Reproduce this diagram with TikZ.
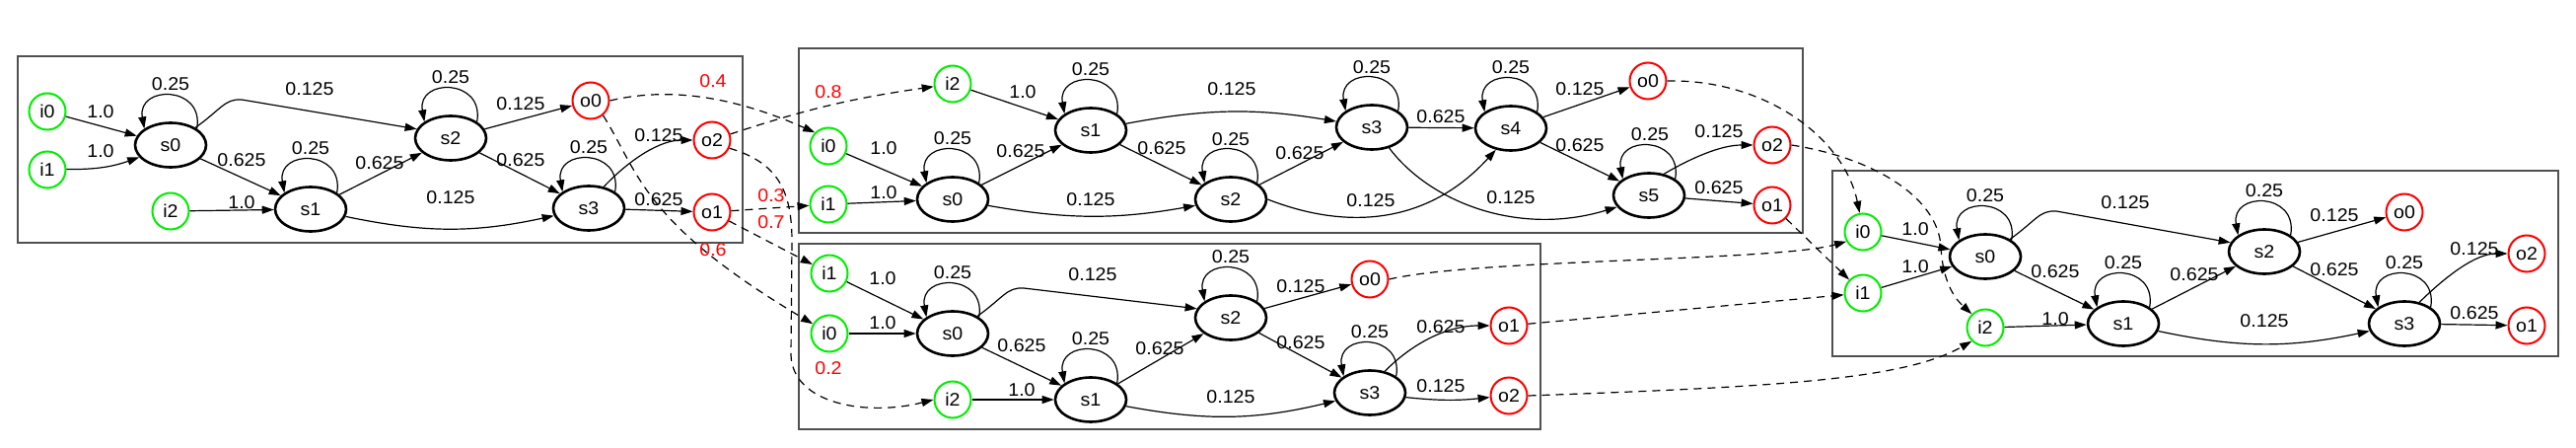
\documentclass[tikz,border=0pt]{standalone}
\usepackage{fontspec}
\setmainfont{Liberation Sans}[FakeStretch=1.06]
\usetikzlibrary{arrows.meta,shapes.geometric}
\definecolor{ingreen}{RGB}{0,238,0}
\definecolor{outred}{RGB}{255,0,0}
\definecolor{boxgray}{RGB}{80,80,80}
\newcommand{\myloop}[1]{\draw[edge] (#1.32) .. controls +(80:45pt) and +(100:45pt) .. (#1.148);}
\begin{document}
\begin{tikzpicture}[x=1pt, y=-1pt, font=\fontsize{18.5}{20}\selectfont,
  inp/.style={circle, draw=ingreen, line width=2pt, minimum size=37pt, inner sep=0pt, fill=white},
  outp/.style={circle, draw=outred, line width=2pt, minimum size=37pt, inner sep=0pt, fill=white},
  st/.style={ellipse, draw=black, line width=2.6pt, minimum width=72pt, minimum height=45pt, inner sep=0pt, fill=white},
  lbl/.style={inner sep=0pt},
  looplbl/.style={inner sep=0pt, yshift=3pt},
  prob/.style={text=outred, inner sep=0pt},
  edge/.style={-{Triangle[length=12pt,width=8pt]}, line width=1.2pt},
  dedge/.style={edge, dash pattern=on 8pt off 6pt},
  cbox/.style={draw=boxgray, line width=2pt}]
\useasboundingbox (0,0) rectangle (2612,454);
% cluster boxes
\draw[cbox] (18,57) rectangle (753,246);
\draw[cbox] (810,49) rectangle (1828,236);
\draw[cbox] (810,247) rectangle (1562,435);
\draw[cbox] (1858,173) rectangle (2594,361);
% ---------- cluster A
\node[inp] (A-i0) at (48,113) {i0};
\node[inp] (A-i1) at (48,172) {i1};
\node[inp] (A-i2) at (173,214) {i2};
\node[st] (A-s0) at (173,147) {s0};
\node[st] (A-s1) at (315,212) {s1};
\node[st] (A-s2) at (457,140) {s2};
\node[st] (A-s3) at (597,211) {s3};
\node[outp] (A-o0) at (599,102) {o0};
\node[outp] (A-o2) at (722,142) {o2};
\node[outp] (A-o1) at (722,215) {o1};
% ---------- cluster B
\node[inp] (B-i2) at (966,85) {i2};
\node[inp] (B-i0) at (840,148) {i0};
\node[inp] (B-i1) at (840,207) {i1};
\node[st] (B-s0) at (966,202) {s0};
\node[st] (B-s1) at (1106,132) {s1};
\node[st] (B-s2) at (1248,202) {s2};
\node[st] (B-s3) at (1391,129) {s3};
\node[st] (B-s4) at (1532,130) {s4};
\node[st] (B-s5) at (1672,198) {s5};
\node[outp] (B-o0) at (1671,82) {o0};
\node[outp] (B-o2) at (1797,147) {o2};
\node[outp] (B-o1) at (1797,208) {o1};
% ---------- cluster C
\node[inp] (C-i1) at (841,277) {i1};
\node[inp] (C-i0) at (841,338) {i0};
\node[inp] (C-i2) at (966,405) {i2};
\node[st] (C-s0) at (966,338) {s0};
\node[st] (C-s1) at (1106,405) {s1};
\node[st] (C-s2) at (1248,322) {s2};
\node[st] (C-s3) at (1389,398) {s3};
\node[outp] (C-o0) at (1389,283) {o0};
\node[outp] (C-o1) at (1530,330) {o1};
\node[outp] (C-o2) at (1530,401) {o2};
% ---------- cluster D
\node[inp] (D-i0) at (1889,235) {i0};
\node[inp] (D-i1) at (1889,297) {i1};
\node[inp] (D-i2) at (2013,332) {i2};
\node[st] (D-s0) at (2013,260) {s0};
\node[st] (D-s1) at (2153,328) {s1};
\node[st] (D-s2) at (2296,255) {s2};
\node[st] (D-s3) at (2438,328) {s3};
\node[outp] (D-o0) at (2438,215) {o0};
\node[outp] (D-o2) at (2562,257) {o2};
\node[outp] (D-o1) at (2562,330) {o1};
% ---------- edges A
\draw[edge] (A-i0) -- (A-s0);
\draw[edge] (A-i1) to[bend right=10] (A-s0);
\draw[edge] (A-i2) -- (A-s1);
\myloop{A-s0} \myloop{A-s1} \myloop{A-s2} \myloop{A-s3}
\draw[edge] (A-s0.35) .. controls (225,110) and (228,100) .. (245,101) -- (A-s2.165);
\draw[edge] (A-s0) -- (A-s1);
\draw[edge] (A-s1) -- (A-s2);
\draw[edge] (A-s1) to[bend right=12] (A-s3);
\draw[edge] (A-s2) -- (A-o0);
\draw[edge] (A-s2) -- (A-s3);
\draw[edge] (A-s3.55) .. controls (640,160) and (670,142) .. (A-o2.west);
\draw[edge] (A-s3) -- (A-o1);
\node[lbl] at (102,113) {1.0};
\node[lbl] at (102,153) {1.0};
\node[lbl] at (245,205) {1.0};
\node[looplbl] at (173,88) {0.25};
\node[looplbl] at (315,153) {0.25};
\node[looplbl] at (457,81) {0.25};
\node[looplbl] at (597,152) {0.25};
\node[lbl] at (314,90) {0.125};
\node[lbl] at (245,162) {0.625};
\node[lbl] at (385,165) {0.625};
\node[lbl] at (457,200) {0.125};
\node[lbl] at (528,105) {0.125};
\node[lbl] at (528,162) {0.625};
\node[lbl] at (668,137) {0.125};
\node[lbl] at (668,202) {0.625};
% ---------- edges B
\draw[edge] (B-i2) -- (B-s1);
\draw[edge] (B-i0) -- (B-s0);
\draw[edge] (B-i1) -- (B-s0);
\myloop{B-s0} \myloop{B-s1} \myloop{B-s2} \myloop{B-s3} \myloop{B-s4} \myloop{B-s5}
\draw[edge] (B-s0) -- (B-s1);
\draw[edge] (B-s0) to[bend right=10] (B-s2);
\draw[edge] (B-s1) to[bend left=10] (B-s3);
\draw[edge] (B-s1) -- (B-s2);
\draw[edge] (B-s2) -- (B-s3);
\draw[edge] (B-s3) -- (B-s4);
\draw[edge] (B-s4) -- (B-o0);
\draw[edge] (B-s4) -- (B-s5);
\draw[edge] (B-s5.55) .. controls (1715,160) and (1745,147) .. (B-o2.west);
\draw[edge] (B-s5) -- (B-o1);
\draw[edge] (B-s2.east) .. controls (1370,235) and (1450,225) .. (B-s4.-125);
\draw[edge] (B-s3.-50) .. controls (1450,205) and (1540,240) .. (B-s5.200);
\node[lbl] at (1037,93) {1.0};
\node[lbl] at (896,150) {1.0};
\node[lbl] at (896,195) {1.0};
\node[looplbl] at (1106,73) {0.25};
\node[looplbl] at (966,143) {0.25};
\node[looplbl] at (1248,144) {0.25};
\node[looplbl] at (1391,71) {0.25};
\node[looplbl] at (1532,71) {0.25};
\node[looplbl] at (1673,139) {0.25};
\node[lbl] at (1035,153) {0.625};
\node[lbl] at (1106,202) {0.125};
\node[lbl] at (1249,90) {0.125};
\node[lbl] at (1178,150) {0.625};
\node[lbl] at (1318,155) {0.625};
\node[lbl] at (1461,118) {0.625};
\node[lbl] at (1602,90) {0.125};
\node[lbl] at (1602,147) {0.625};
\node[lbl] at (1743,133) {0.125};
\node[lbl] at (1743,190) {0.625};
\node[lbl] at (1390,203) {0.125};
\node[lbl] at (1532,200) {0.125};
% ---------- edges C
\draw[edge] (C-i1) -- (C-s0);
\draw[edge] (C-i0) -- (C-s0);
\draw[edge] (C-i2) -- (C-s1);
\myloop{C-s0} \myloop{C-s1} \myloop{C-s2} \myloop{C-s3}
\draw[edge] (C-s0.35) .. controls (1018,301) and (1021,291) .. (1038,292) -- (C-s2.165);
\draw[edge] (C-s0) -- (C-s1);
\draw[edge] (C-s1) -- (C-s2);
\draw[edge] (C-s1) to[bend right=12] (C-s3);
\draw[edge] (C-s2) -- (C-o0);
\draw[edge] (C-s2) -- (C-s3);
\draw[edge] (C-s3.55) .. controls (1430,350) and (1465,330) .. (C-o1.west);
\draw[edge] (C-s3) to[bend right=6] (C-o2);
\node[lbl] at (895,282) {1.0};
\node[lbl] at (895,327) {1.0};
\node[lbl] at (1036,395) {1.0};
\node[looplbl] at (966,279) {0.25};
\node[looplbl] at (1106,346) {0.25};
\node[looplbl] at (1248,263) {0.25};
\node[looplbl] at (1389,339) {0.25};
\node[lbl] at (1108,278) {0.125};
\node[lbl] at (1036,350) {0.625};
\node[lbl] at (1176,353) {0.625};
\node[lbl] at (1248,402) {0.125};
\node[lbl] at (1319,290) {0.125};
\node[lbl] at (1319,347) {0.625};
\node[lbl] at (1461,331) {0.625};
\node[lbl] at (1461,391) {0.125};
% ---------- edges D
\draw[edge] (D-i0) -- (D-s0);
\draw[edge] (D-i1) -- (D-s0);
\draw[edge] (D-i2) -- (D-s1);
\myloop{D-s0} \myloop{D-s1} \myloop{D-s2} \myloop{D-s3}
\draw[edge] (D-s0.35) .. controls (2065,223) and (2068,213) .. (2085,214) -- (D-s2.165);
\draw[edge] (D-s0) -- (D-s1);
\draw[edge] (D-s1) -- (D-s2);
\draw[edge] (D-s1) to[bend right=12] (D-s3);
\draw[edge] (D-s2) -- (D-o0);
\draw[edge] (D-s2) -- (D-s3);
\draw[edge] (D-s3.55) .. controls (2480,280) and (2510,257) .. (D-o2.west);
\draw[edge] (D-s3) -- (D-o1);
\node[lbl] at (1942,232) {1.0};
\node[lbl] at (1942,270) {1.0};
\node[lbl] at (2084,323) {1.0};
\node[looplbl] at (2013,201) {0.25};
\node[looplbl] at (2153,269) {0.25};
\node[looplbl] at (2296,196) {0.25};
\node[looplbl] at (2438,269) {0.25};
\node[lbl] at (2155,205) {0.125};
\node[lbl] at (2084,275) {0.625};
\node[lbl] at (2225,278) {0.625};
\node[lbl] at (2296,325) {0.125};
\node[lbl] at (2367,218) {0.125};
\node[lbl] at (2367,273) {0.625};
\node[lbl] at (2509,252) {0.125};
\node[lbl] at (2509,317) {0.625};
% ---------- inter-cluster edges
\draw[dedge] (A-o0.east) .. controls (690,85) and (760,105) .. (B-i0.north west);
\draw[dedge] (A-o0.-50) .. controls (648,175) and (650,225) .. (C-i0.150);
\draw[dedge] (A-o2) to[bend left=5] (B-i2);
\draw[dedge] (A-o2.-25) .. controls (790,165) and (803,195) .. (803,245) -- (802,360) .. controls (804,410) and (880,422) .. (C-i2.west);
\draw[dedge] (A-o1) -- (B-i1);
\draw[dedge] (A-o1) -- (C-i1);
\node[prob] at (723,82) {0.4};
\node[prob] at (723,253) {0.6};
\node[prob] at (840,93) {0.8};
\node[prob] at (840,373) {0.2};
\node[prob] at (782,198) {0.3};
\node[prob] at (782,225) {0.7};
\draw[dedge] (B-o0.east) .. controls (1790,80) and (1870,140) .. (D-i0.100);
\draw[dedge] (B-o2.east) .. controls (1900,160) and (1965,200) .. (1968,250) .. controls (1970,290) and (1985,305) .. (D-i2.north west);
\draw[dedge] (B-o1) -- (D-i1);
\draw[dedge] (C-o0.east) .. controls (1500,262) and (1800,265) .. (D-i0.-150);
\draw[dedge] (C-o1) -- (D-i1);
\draw[dedge] (C-o2.east) .. controls (1800,392) and (1930,385) .. (D-i2.-135);
\end{tikzpicture}
\end{document}
